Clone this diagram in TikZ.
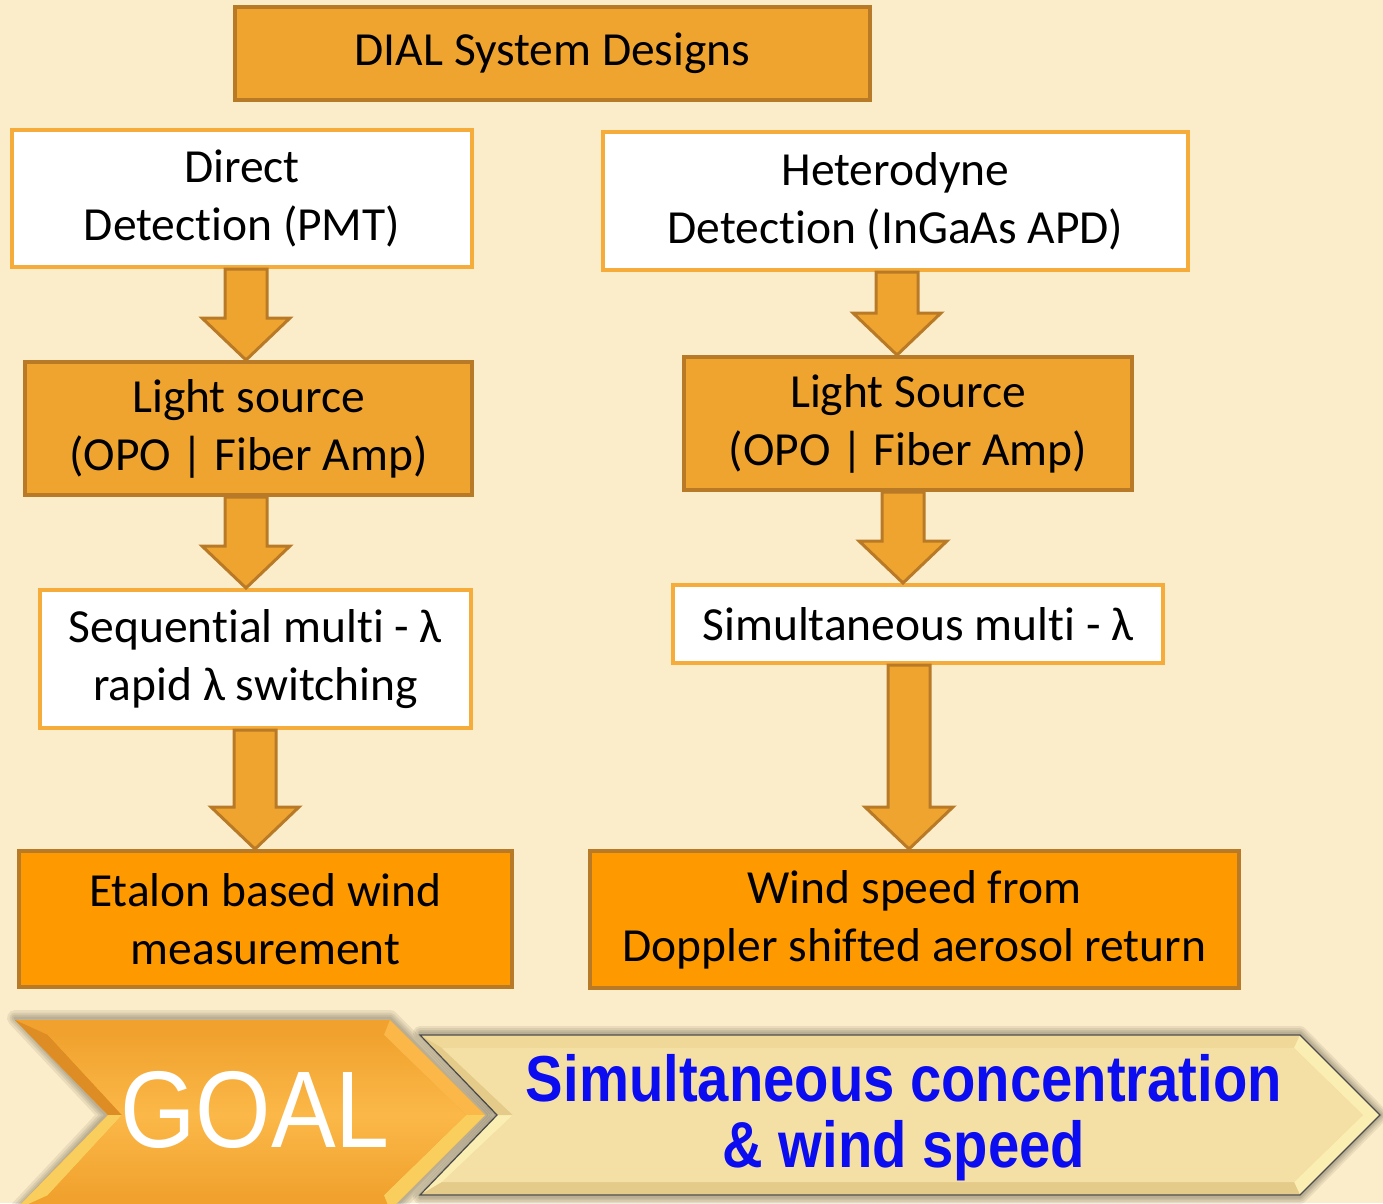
\documentclass[tikz,border=0pt]{standalone}
\usepackage{fontspec}
\usepackage{graphicx}
\setmainfont{Carlito}[Ligatures=NoCommon]
\newfontfamily\arialfont{Liberation Sans}
\usetikzlibrary{calc}
\definecolor{bg}{RGB}{252,237,202}
\definecolor{org}{RGB}{240,164,48}
\definecolor{brn}{RGB}{184,122,38}
\definecolor{lorg}{RGB}{246,172,58}
\definecolor{brt}{RGB}{255,153,0}
\definecolor{goalA}{RGB}{241,162,46}
\definecolor{goalB}{RGB}{251,184,72}
\definecolor{goalDark}{RGB}{222,140,36}
\definecolor{goalLight}{RGB}{250,206,92}
\definecolor{beigeA}{RGB}{240,217,152}
\definecolor{beigeB}{RGB}{244,224,165}
\definecolor{beigeL}{RGB}{251,238,178}
\definecolor{beigeD}{RGB}{228,203,138}
\definecolor{bluetxt}{RGB}{12,12,240}
\newcommand\blockarr[3]{%
  \draw[barr] let \p1=(#1.south), \p2=(#2.north) in
    (#3pt-21pt,\y1) -- (#3pt+21pt,\y1) -- (#3pt+21pt,\y2+42pt) --
    (#3pt+44pt,\y2+42pt) -- (#3pt,\y2) -- (#3pt-44pt,\y2+42pt) --
    (#3pt-21pt,\y2+42pt) -- cycle;}
\begin{document}
\begin{tikzpicture}[x=1pt,y=-1pt,
  box/.style={draw, line width=4pt, align=center, inner sep=0pt, text=black,
    font=\fontsize{47.5}{58}\selectfont},
  obox/.style={box, fill=org, draw=brn},
  wbox/.style={box, fill=white, draw=lorg},
  bbox/.style={box, fill=brt, draw=brn},
  barr/.style={fill=org, draw=brn, line width=3pt, line join=miter},
  shadowline/.style={draw=black, opacity=0.07, line join=round}]
\fill[bg] (0,0) rectangle (1383,1203);
\useasboundingbox (0,0) rectangle (1383,1203);

% boxes
\node[obox, minimum width=635pt, minimum height=93pt] (dial) at (552.5,53.5) {DIAL System Designs};
\node[wbox, minimum width=460pt, minimum height=137pt] (dd) at (242,198.5) {Direct\\Detection (PMT)};
\node[wbox, minimum width=585pt, minimum height=138pt] (hd) at (895.5,201) {Heterodyne\\Detection (InGaAs APD)};
\node[obox, minimum width=447pt, minimum height=133pt] (ls1) at (248.5,428.5) {Light source\\(OPO | Fiber Amp)};
\node[obox, minimum width=448pt, minimum height=133pt] (ls2) at (908,423.5) {Light Source\\(OPO | Fiber Amp)};
\node[wbox, minimum width=431pt, minimum height=138pt] (seq) at (255.5,659) {Sequential multi - λ\\rapid λ switching};
\node[wbox, minimum width=490pt, minimum height=78pt] (sim) at (918,624) {Simultaneous multi - λ};
\node[bbox, minimum width=493pt, minimum height=136pt] (et) at (265.5,919) {Etalon based wind\\measurement};
\node[bbox, minimum width=649pt, minimum height=137pt] (ws) at (914.5,919.5) {Wind speed from\\Doppler shifted aerosol return};

% block arrows
\blockarr{dd}{ls1}{246}
\blockarr{ls1}{seq}{246}
\blockarr{seq}{et}{255}
\blockarr{hd}{ls2}{897}
\blockarr{ls2}{sim}{903}
\blockarr{sim}{ws}{909}

% right chevron (beige)
\foreach \w in {14,10,6,3}
  \draw[shadowline, line width=\w pt] (420,1033) -- (1300,1033) -- (1381,1115) -- (1300,1197) -- (420,1197) -- (497,1115) -- cycle;
\fill[beigeA] (420,1035) -- (1300,1035) -- (1380,1115) -- (1300,1195) -- (420,1195) -- (497,1115) -- cycle;
\fill[beigeL] (420,1195) -- (497,1115) -- (513,1115) -- (442,1182) -- cycle;
\fill[beigeD] (420,1035) -- (497,1115) -- (513,1115) -- (442,1048) -- cycle;
\fill[beigeL] (1300,1035) -- (1380,1115) -- (1363,1115) -- (1294,1048) -- cycle;
\fill[beigeL] (1300,1195) -- (1380,1115) -- (1363,1115) -- (1294,1182) -- cycle;
\fill[beigeD] (420,1195) -- (1300,1195) -- (1294,1182) -- (442,1182) -- cycle;
\fill[beigeB] (442,1048) -- (1294,1048) -- (1363,1115) -- (1294,1182) -- (442,1182) -- (513,1115) -- cycle;
\draw[black!70, line width=1.2pt, line join=miter] (420,1035) -- (1300,1035) -- (1380,1115) -- (1300,1195) -- (420,1195) -- (497,1115) -- cycle;

% GOAL chevron (orange)
\foreach \w in {16,11,7,3}
  \draw[shadowline, line width=\w pt] (15,1018) -- (390,1018) -- (487,1115) -- (390,1212) -- (15,1212) -- (106,1115) -- cycle;
\fill[goalA] (15,1020) -- (390,1020) -- (485,1115) -- (390,1210) -- (15,1210) -- (108,1115) -- cycle;
\fill[goalDark] (15,1020) -- (108,1115) -- (122,1115) -- (48,1035) -- cycle;
\fill[goalLight] (15,1210) -- (108,1115) -- (122,1115) -- (48,1195) -- cycle;
\fill[goalB] (390,1020) -- (485,1115) -- (466,1115) -- (384,1035) -- cycle;
\fill[goalLight] (390,1210) -- (485,1115) -- (466,1115) -- (384,1195) -- cycle;
\shade[top color=goalA, bottom color=goalA, middle color=goalB] (48,1035) -- (384,1035) -- (466,1115) -- (384,1195) -- (48,1195) -- (122,1115) -- cycle;

\node[text=white, inner sep=0pt, font=\arialfont\fontsize{109}{110}\selectfont] (goal) at (255,1110) {\scalebox{0.89}[1]{GOAL}};
\node[text=bluetxt, align=center, inner sep=0pt, font=\arialfont\bfseries\fontsize{65}{66}\selectfont] (aim) at (904,1118)
  {\scalebox{0.865}[1]{Simultaneous concentration}\\\scalebox{0.865}[1]{\& wind speed}};
\end{tikzpicture}
\end{document}
